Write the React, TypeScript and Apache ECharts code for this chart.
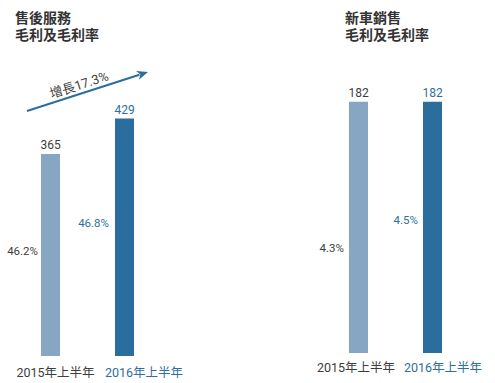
import React, { useEffect, useRef } from "react";
import * as echarts from "echarts";

const categories = ["2015年上半年", "2016年上半年"];
const afterSalesProfit = [365, 429];
const afterSalesMargin = ["46.2%", "46.8%"];
const newCarProfit = [182, 182];
const newCarMargin = ["4.3%", "4.5%"];
const leftTitle = "售後服務\n毛利及毛利率";
const rightTitle = "新車銷售\n毛利及毛利率";
const growthLabel = "增長17.3%";

const LIGHT = "#87a6c4";
const DARK = "#2b6e9d";
const GREY = "#3d3d3d";
const barColors = [LIGHT, DARK];
const textColors = [GREY, "#2e6f9e"];
const FONT = "Roboto, 'Noto Sans CJK TC', sans-serif";

function barSeries(axis: number, values: number[]) {
  return {
    type: "bar",
    xAxisIndex: axis,
    yAxisIndex: axis,
    barWidth: 19,
    silent: true,
    data: values.map((v, i) => ({
      value: v,
      itemStyle: { color: barColors[i] },
      label: { color: textColors[i] },
    })),
    label: {
      show: true,
      position: "top",
      distance: 3,
      fontSize: 12,
      fontFamily: FONT,
    },
  };
}

function marginSeries(axis: number, values: number[], labels: string[], pos: any[]) {
  return {
    type: "bar",
    xAxisIndex: axis,
    yAxisIndex: axis,
    barWidth: 19,
    barGap: "-100%",
    silent: true,
    data: values.map((v, i) => ({
      value: v,
      itemStyle: { color: "rgba(0,0,0,0)" },
      label: { color: textColors[i], position: pos[i], formatter: labels[i] },
    })),
    label: {
      show: true,
      align: "right",
      verticalAlign: "middle",
      fontSize: 11.5,
      fontFamily: FONT,
    },
  };
}

function xAxis(grid: number, margin: number, padA: number[], padB: number[]) {
  return {
    type: "category",
    gridIndex: grid,
    data: categories,
    axisLine: { show: false },
    axisTick: { show: false },
    axisLabel: {
      margin,
      interval: 0,
      formatter: (v: string, i: number) => (i === 0 ? `{a|${v}}` : `{b|${v}}`),
      rich: {
        a: { color: textColors[0], fontSize: 12.5, fontFamily: FONT, padding: padA },
        b: { color: textColors[1], fontSize: 12.5, fontFamily: FONT, padding: padB },
      },
    },
  };
}

// arrow geometry
const ax0 = 27, ay0 = 111, ax1 = 148, ay1 = 72;
const dx = ax1 - ax0, dy = ay1 - ay0;
const len = Math.sqrt(dx * dx + dy * dy);
const ux = dx / len, uy = dy / len;
const nx = -uy, ny = ux;
const hb = 11, hw = 4.5;
const bx = ax1 - ux * hb, by = ay1 - uy * hb;

export default function App() {
  const ref = useRef<HTMLDivElement>(null);
  useEffect(() => {
    if (!ref.current) return;
    const chart = echarts.init(ref.current, null, { renderer: "svg" });
    chart.setOption({
      animation: false,
      title: [
        {
          text: leftTitle,
          left: 15,
          top: 9,
          padding: 0,
          textStyle: { fontSize: 14, fontWeight: "bold", color: "#333", lineHeight: 17, fontFamily: FONT },
        },
        {
          text: rightTitle,
          left: 345,
          top: 9,
          padding: 0,
          textStyle: { fontSize: 14, fontWeight: "bold", color: "#333", lineHeight: 17, fontFamily: FONT },
        },
      ],
      grid: [
        { left: 13.5, width: 148, top: 107, height: 249 },
        { left: 321.5, width: 148, top: 77, height: 276 },
      ],
      xAxis: [
        xAxis(0, 10, [0, 0, 0, 10], [0, 0, 0, 39]),
        xAxis(1, 8, [0, 5, 0, 0], [0, 0, 0, 21]),
      ],
      yAxis: [
        { type: "value", gridIndex: 0, min: 0, max: 450, show: false, splitLine: { show: false } },
        { type: "value", gridIndex: 1, min: 0, max: 200, show: false, splitLine: { show: false } },
      ],
      series: [
        barSeries(0, afterSalesProfit),
        marginSeries(0, afterSalesProfit, afterSalesMargin, [[-3, "48%"], [-6, "44%"]]),
        barSeries(1, newCarProfit),
        marginSeries(1, newCarProfit, newCarMargin, [[-5, "58%"], [-5, "47%"]]),
      ],
      graphic: [
        {
          type: "line",
          shape: { x1: ax0, y1: ay0, x2: bx + ux * 2, y2: by + uy * 2 },
          style: { stroke: DARK, lineWidth: 2 },
        },
        {
          type: "polygon",
          shape: {
            points: [
              [ax1, ay1],
              [bx + nx * hw, by + ny * hw],
              [bx + ux * 3, by + uy * 3],
              [bx - nx * hw, by - ny * hw],
            ],
          },
          style: { fill: DARK },
        },
        {
          type: "text",
          x: 79,
          y: 85,
          rotation: Math.atan2(-dy, dx),
          style: {
            text: growthLabel,
            align: "center",
            verticalAlign: "middle",
            fontSize: 13,
            fill: "#444",
            fontFamily: FONT,
          },
        },
      ],
    });
    return () => chart.dispose();
  }, []);
  return (
    <div
      ref={ref}
      style={{ position: "absolute", left: 0, top: 0, width: 495, height: 383, background: "#fff" }}
    />
  );
}
